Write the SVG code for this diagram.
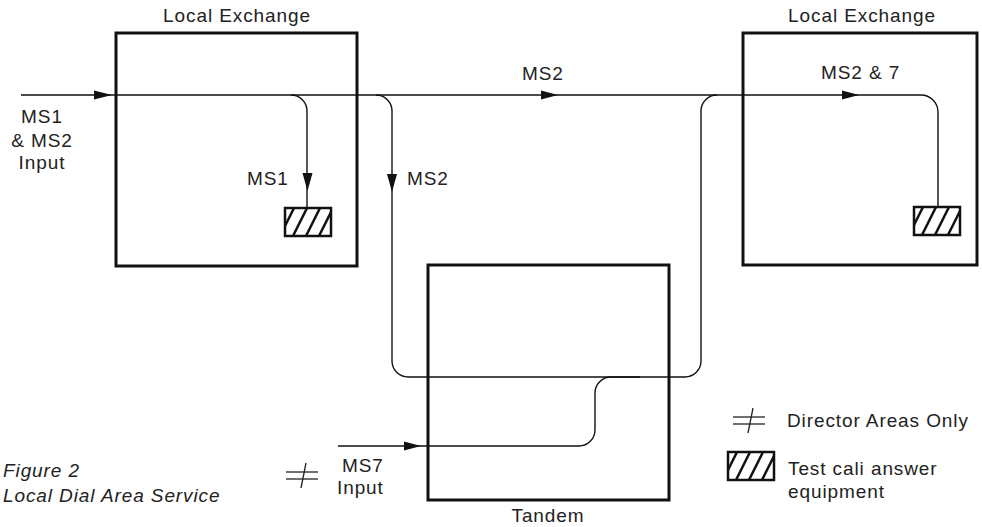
<svg xmlns="http://www.w3.org/2000/svg" width="982" height="527" viewBox="0 0 982 527">
<style>
.box{fill:none;stroke:#111;stroke-width:3}
.ln{fill:none;stroke:#111;stroke-width:1.4}
.ar{fill:#111;stroke:none}
.t{font-family:"Liberation Sans",Arial,sans-serif;font-size:19px;letter-spacing:0.9px;fill:#222}
.c{text-anchor:middle}
.i{font-style:italic}
.hb{fill:#fff;stroke:#111;stroke-width:2.5}
.hl{stroke:#111;stroke-width:2.5}
.dir{stroke:#222;stroke-width:1.3;fill:none}
</style>
<defs>
<clipPath id="hc"><rect x="0" y="0" width="46" height="28"/></clipPath>
<g id="hatch">
<rect class="hb" x="0" y="0" width="46" height="28"/>
<g clip-path="url(#hc)">
<line class="hl" x1="-5" y1="28" x2="9" y2="0"/>
<line class="hl" x1="8" y1="28" x2="22" y2="0"/>
<line class="hl" x1="21" y1="28" x2="35" y2="0"/>
<line class="hl" x1="34" y1="28" x2="48" y2="0"/>
</g>
</g>
<g id="dirsym">
<line class="dir" x1="0" y1="0" x2="32" y2="0"/>
<line class="dir" x1="0" y1="7" x2="32" y2="7"/>
<line class="dir" x1="20" y1="-9" x2="15" y2="16"/>
</g>
</defs>
<rect width="982" height="527" fill="#fff"/>

<g id="connectors">
<path class="ln" d="M21,95 H921 A17,17 0 0 1 938,112 V207"/>
<path class="ln" d="M291,95 A16,16 0 0 1 307,111 V209"/>
<path class="ln" d="M376,95 A16,16 0 0 1 392,111 V361 A16,16 0 0 0 408,377 H685 A16,16 0 0 0 701,361 V111 A16,16 0 0 1 717,95"/>
<path class="ln" d="M338,446 H579 A16,16 0 0 0 595,430 V393 A16,16 0 0 1 611,377 H640"/>
<polygon class="ar" points="94,90.5 112,95 94,99.5"/>
<polygon class="ar" points="541,90.5 558,95 541,99.5"/>
<polygon class="ar" points="842,90.5 859,95 842,99.5"/>
<polygon class="ar" points="302.5,173 312.5,173 307.5,191"/>
<polygon class="ar" points="387,174 397,174 392,192"/>
<polygon class="ar" points="404,441.5 421,446 404,450.5"/>
</g>

<g id="local-exchange-left">
<rect class="box" x="116" y="33" width="241" height="233"/>
<text class="t c" x="237" y="22">Local Exchange</text>
<use href="#hatch" x="285" y="208"/>
</g>

<g id="local-exchange-right">
<rect class="box" x="743" y="33" width="234" height="232"/>
<text class="t c" x="862" y="22">Local Exchange</text>
<use href="#hatch" x="914" y="207"/>
</g>

<g id="tandem">
<rect class="box" x="428" y="265" width="241" height="235"/>
<text class="t c" x="548" y="522">Tandem</text>
</g>

<g id="labels">
<text class="t c" x="42" y="123">MS1</text>
<text class="t c" x="42" y="147">&amp; MS2</text>
<text class="t c" x="42" y="169">Input</text>
<text class="t" x="522" y="80">MS2</text>
<text class="t" x="821" y="79">MS2 &amp; 7</text>
<text class="t" x="247" y="185">MS1</text>
<text class="t" x="407" y="185">MS2</text>
<text class="t" x="342" y="472">MS7</text>
<text class="t" x="337" y="494">Input</text>
<use href="#dirsym" x="286" y="472"/>
</g>

<g id="caption">
<text class="t i" x="3" y="477">Figure 2</text>
<text class="t i" x="3" y="502">Local Dial Area Service</text>
</g>

<g id="legend">
<use href="#dirsym" x="733" y="417"/>
<text class="t" x="787" y="427">Director Areas Only</text>
<use href="#hatch" x="728" y="452"/>
<text class="t" x="788" y="475">Test cali answer</text>
<text class="t" x="788" y="498">equipment</text>
</g>
</svg>
